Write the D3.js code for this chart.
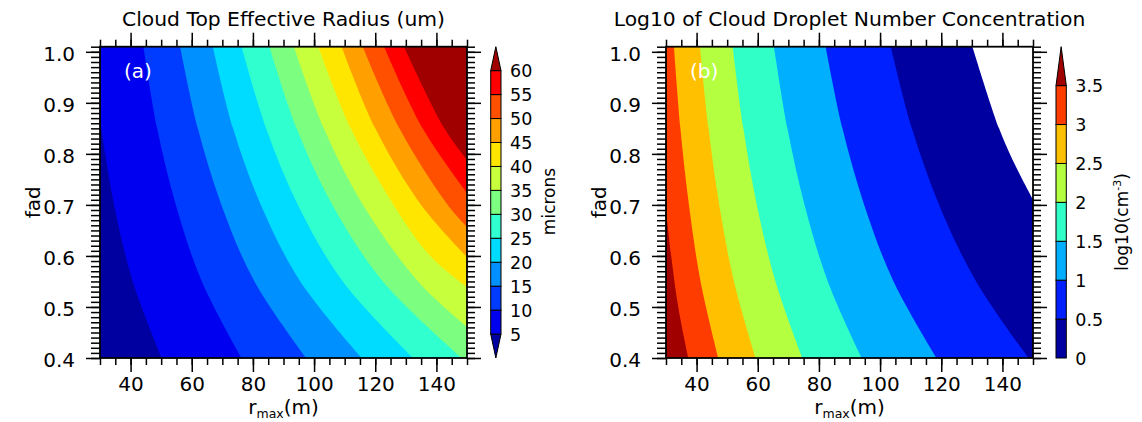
<!DOCTYPE html>
<html>
<head>
<meta charset="utf-8">
<script src="https://cdn.jsdelivr.net/npm/d3@7"></script>
<style>
  body { margin: 0; background: #fff; }
  text { font-family: "DejaVu Sans", sans-serif; fill: #000; }
</style>
</head>
<body>
<div id="chart"></div>
<script>
// 1: DATA
const rmaxDomain = [30, 150];
const fadDomain = [0.4, 1.01];
const xTickValues = [40, 60, 80, 100, 120, 140];
const yTickValues = [0.4, 0.5, 0.6, 0.7, 0.8, 0.9, 1.0];

// panel (a): cloud top effective radius, contour levels in microns
const reLevels = [5, 10, 15, 20, 25, 30, 35, 40, 45, 50, 55, 60];
// first colour is the band below 5, then one band above each level
const reColors = ["#0000a0", "#0000f0", "#003cff", "#0090ff", "#00dcff", "#30ffd0",
                  "#7cff80", "#c8ff3c", "#ffe600", "#ffa000", "#ff5000", "#ff0000", "#a00000"];
// each contour line as [rmax, fad] points, from bottom to top
const reContours = [
  [[50.2, 0.4], [40.7, 0.55], [34.6, 0.7], [31.7, 0.8], [30, 0.87]],
  [[76.3, 0.4], [63.3, 0.55], [54.8, 0.7], [48.7, 0.85], [44.2, 1.01]],
  [[97.4, 0.4], [80.5, 0.55], [69.7, 0.7], [62, 0.85], [56.2, 1.01]],
  [[115.6, 0.4], [95.5, 0.55], [82.6, 0.7], [73.5, 0.85], [66.9, 1.01]],
  [[132.4, 0.4], [109.4, 0.55], [94.7, 0.7], [84.3, 0.85], [76.3, 1.01]],
  [[148.3, 0.4], [122.5, 0.55], [106, 0.7], [94.3, 0.85], [85.4, 1.01]],
  [[150, 0.461], [134, 0.55], [116, 0.7], [103.2, 0.85], [93.4, 1.01]],
  [[150, 0.539], [138, 0.6], [126, 0.7], [112, 0.85], [101.4, 1.01]],
  [[150, 0.598], [135, 0.7], [120, 0.85], [109, 1.01]],
  [[150, 0.657], [143.7, 0.7], [127.9, 0.85], [115.9, 1.01]],
  [[150, 0.723], [135.5, 0.85], [122.9, 1.01]],
  [[150, 0.788], [142.6, 0.85], [129.4, 1.01]]
];

// panel (b): log10 of droplet number concentration
const ncLevels = [0, 0.5, 1, 1.5, 2, 2.5, 3, 3.5];
// first colour is below 0 (left blank)
const ncColors = ["#ffffff", "#0000a0", "#0020ff", "#00b0ff", "#30ffc8",
                  "#b4ff40", "#ffc000", "#ff3c00", "#a00000"];
const ncContours = [
  [[150, 0.71], [144, 0.78], [138.9, 0.85], [130.2, 1.01]],
  [[148.5, 0.4], [131.4, 0.55], [119.3, 0.7], [110.4, 0.85], [103.5, 1.01]],
  [[118.5, 0.4], [104.4, 0.55], [94.8, 0.7], [87.7, 0.85], [82.2, 1.01]],
  [[94, 0.4], [82.9, 0.55], [75.3, 0.7], [69.7, 0.85], [65.3, 1.01]],
  [[74.6, 0.4], [65.8, 0.55], [59.7, 0.7], [55.3, 0.85], [51.8, 1.01]],
  [[59.3, 0.4], [52.2, 0.55], [47.4, 0.7], [43.9, 0.85], [41.1, 1.01]],
  [[47.1, 0.4], [41.3, 0.55], [37.5, 0.7], [34.7, 0.85], [32.6, 1.01]],
  [[37.3, 0.4], [34, 0.5], [31.7, 0.6], [30, 0.69]]
];

// 2: SVG
const W = 1142, H = 422;
const plotTop = 46.7, plotBottom = 358;
const svg = d3.select("#chart").append("svg")
  .attr("width", W).attr("height", H);

const panels = [
  { left: 100, right: 467, id: "a", title: "Cloud Top Effective Radius (um)", tag: "(a)",
    levels: reLevels, colors: reColors, contours: reContours, highSide: "right",
    cbX: 490.7, cbLo: 0, cbHi: 65, lowerTri: true, labelFmt: d3.format("d"),
    cbTitleX: 555, cbTitleY: 201.5 },
  { left: 666, right: 1033, id: "b", title: "Log10 of Cloud Droplet Number Concentration", tag: "(b)",
    levels: ncLevels, colors: ncColors, contours: ncContours, highSide: "left",
    cbX: 1056, cbLo: 0, cbHi: 4, lowerTri: false, labelFmt: d => String(d),
    cbTitleX: 1128, cbTitleY: 222 }
];

panels.forEach(p => drawPanel(p));

function drawPanel(p) {
  const x = d3.scaleLinear().domain(rmaxDomain).range([p.left, p.right]);
  const y = d3.scaleLinear().domain(fadDomain).range([plotBottom, plotTop]);
  const [r0, r1] = rmaxDomain, [f0, f1] = fadDomain;

  // position of a frame point walking clockwise from the bottom-left corner
  function perim(pt) {
    const e = 1e-6;
    if (Math.abs(pt[0] - r0) < e) return (pt[1] - f0) / (f1 - f0);
    if (Math.abs(pt[1] - f1) < e) return 1 + (pt[0] - r0) / (r1 - r0);
    if (Math.abs(pt[0] - r1) < e) return 2 + (f1 - pt[1]) / (f1 - f0);
    return 3 + (r1 - pt[0]) / (r1 - r0);
  }
  const corners = [[r0, f0], [r0, f1], [r1, f1], [r1, f0]];

  const line = d3.line()
    .x(d => x(d[0]))
    .y(d => y(d[1]))
    .curve(d3.curveCatmullRom);

  // region on the high side of a contour line
  function regionPath(pts) {
    const path = p.highSide === "right" ? pts : pts.slice().reverse();
    const te = perim(path[path.length - 1]);
    let ts = perim(path[0]);
    if (ts <= te) ts += 4;
    let d = line(path);
    for (let c = Math.floor(te) + 1; c < ts; c++) {
      const k = corners[c % 4];
      d += `L${x(k[0])},${y(k[1])}`;
    }
    return d + "Z";
  }

  const clipId = "clip-" + p.id;
  svg.append("clipPath").attr("id", clipId)
    .append("rect")
    .attr("x", p.left).attr("y", plotTop)
    .attr("width", p.right - p.left).attr("height", plotBottom - plotTop);

  const plot = svg.append("g").attr("clip-path", `url(#${clipId})`);

  plot.append("rect")
    .attr("x", p.left).attr("y", plotTop)
    .attr("width", p.right - p.left).attr("height", plotBottom - plotTop)
    .attr("fill", p.colors[0]);

  p.contours.forEach((c, i) => {
    plot.append("path")
      .attr("d", regionPath(c))
      .attr("fill", p.colors[i + 1]);
  });

  // panel tag
  svg.append("text")
    .attr("x", p.left + 24).attr("y", 78)
    .attr("font-size", "20px")
    .style("fill", "#fff")
    .text(p.tag);

  // axes
  const minorX = d3.range(30, 151, 5);
  const minorY = d3.range(40, 102).map(d => d / 100);

  function styleAxis(g) {
    g.select(".domain").remove();
    g.selectAll("line").attr("stroke", "#000").attr("stroke-width", 1.5);
    g.selectAll("text").attr("font-size", "20px").style("font-family", "DejaVu Sans");
  }

  svg.append("g").attr("transform", `translate(0,${plotBottom})`)
    .call(d3.axisBottom(x).tickValues(minorX).tickSize(7).tickFormat(""))
    .call(styleAxis);
  svg.append("g").attr("transform", `translate(0,${plotBottom})`)
    .call(d3.axisBottom(x).tickValues(xTickValues).tickSize(14).tickPadding(5).tickFormat(d3.format("d")))
    .call(styleAxis);
  svg.append("g").attr("transform", `translate(0,${plotTop})`)
    .call(d3.axisTop(x).tickValues(minorX).tickSize(7).tickFormat(""))
    .call(styleAxis);
  svg.append("g").attr("transform", `translate(0,${plotTop})`)
    .call(d3.axisTop(x).tickValues(xTickValues).tickSize(14).tickFormat(""))
    .call(styleAxis);

  svg.append("g").attr("transform", `translate(${p.left},0)`)
    .call(d3.axisLeft(y).tickValues(minorY).tickSize(9).tickFormat(""))
    .call(styleAxis);
  svg.append("g").attr("transform", `translate(${p.left},0)`)
    .call(d3.axisLeft(y).tickValues(yTickValues).tickSize(14).tickPadding(11).tickFormat(d3.format(".1f")))
    .call(styleAxis)
    .call(g => g.selectAll("text").attr("dy", "0.42em"));
  svg.append("g").attr("transform", `translate(${p.right},0)`)
    .call(d3.axisRight(y).tickValues(minorY).tickSize(8).tickFormat(""))
    .call(styleAxis);
  svg.append("g").attr("transform", `translate(${p.right},0)`)
    .call(d3.axisRight(y).tickValues(yTickValues).tickSize(14).tickFormat(""))
    .call(styleAxis);

  // frame
  svg.append("rect")
    .attr("x", p.left).attr("y", plotTop)
    .attr("width", p.right - p.left).attr("height", plotBottom - plotTop)
    .attr("fill", "none").attr("stroke", "#000").attr("stroke-width", 1.8);

  // titles
  const cx = (p.left + p.right) / 2;
  svg.append("text")
    .attr("x", cx).attr("y", 26)
    .attr("text-anchor", "middle").attr("font-size", "20.3px")
    .text(p.title);

  const xt = svg.append("text")
    .attr("x", cx).attr("y", 414)
    .attr("text-anchor", "middle").attr("font-size", "20px");
  xt.append("tspan").text("r");
  xt.append("tspan").attr("font-size", "12.5px").attr("dy", 4).text("max");
  xt.append("tspan").attr("dy", -4).text("(m)");

  svg.append("text")
    .attr("transform", "rotate(-90)")
    .attr("x", -(plotTop + plotBottom) / 2).attr("y", p.left - 60)
    .attr("text-anchor", "middle").attr("font-size", "20px")
    .text("fad");

  // colorbar
  const cb = d3.scaleLinear().domain([p.cbLo, p.cbHi]).range([plotBottom, plotTop]);
  const bw = 10.3, x0 = p.cbX, x1 = p.cbX + bw, xm = p.cbX + bw / 2;
  const step = p.levels[1] - p.levels[0];
  const cbG = svg.append("g");

  if (p.lowerTri) {
    cbG.append("path")
      .attr("d", `M${x0},${cb(p.levels[0])}L${x1},${cb(p.levels[0])}L${xm},${cb(p.levels[0] - step)}Z`)
      .attr("fill", p.colors[0]).attr("stroke", "#000").attr("stroke-width", 1);
  }
  for (let i = 0; i < p.levels.length - 1; i++) {
    cbG.append("rect")
      .attr("x", x0).attr("y", cb(p.levels[i + 1]))
      .attr("width", bw).attr("height", cb(p.levels[i]) - cb(p.levels[i + 1]))
      .attr("fill", p.colors[i + 1]).attr("stroke", "#000").attr("stroke-width", 1);
  }
  const last = p.levels[p.levels.length - 1];
  cbG.append("path")
    .attr("d", `M${x0},${cb(last)}L${x1},${cb(last)}L${xm},${cb(last + step)}Z`)
    .attr("fill", p.colors[p.colors.length - 1]).attr("stroke", "#000").attr("stroke-width", 1);

  cbG.selectAll("text.cbl")
    .data(p.levels)
    .join("text")
    .attr("class", "cbl")
    .attr("x", x1 + 9)
    .attr("y", d => cb(d))
    .attr("dy", "0.38em")
    .attr("font-size", "17.5px")
    .text(d => p.labelFmt(d));

  const ct = svg.append("text")
    .attr("transform", "rotate(-90)")
    .attr("x", -p.cbTitleY).attr("y", p.cbTitleX)
    .attr("text-anchor", "middle").attr("font-size", "17px");
  if (p.id === "a") {
    ct.text("microns");
  } else {
    ct.append("tspan").text("log10(cm");
    ct.append("tspan").attr("font-size", "11px").attr("dy", -7).text("-3");
    ct.append("tspan").attr("dy", 7).text(")");
  }
}
</script>
</body>
</html>
